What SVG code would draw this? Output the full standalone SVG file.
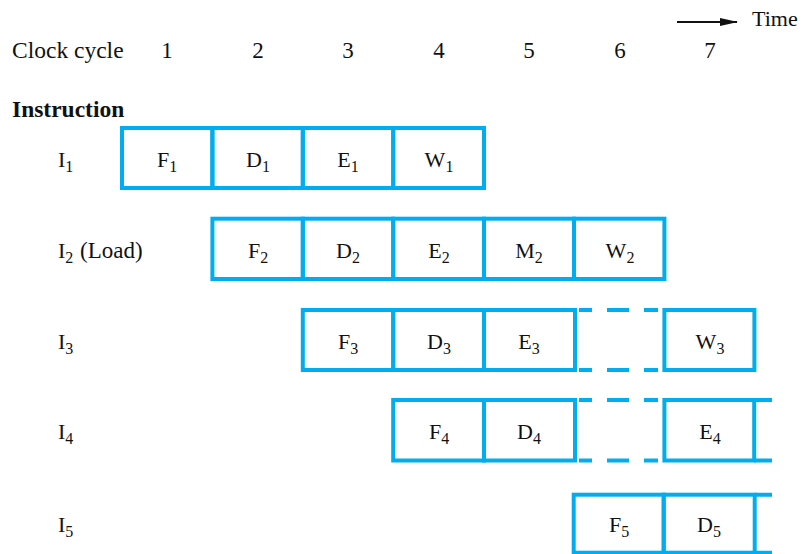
<svg xmlns="http://www.w3.org/2000/svg" width="804" height="554" viewBox="0 0 804 554">
<defs>
<style>
text{font-family:"Liberation Serif","Times New Roman",serif;fill:#111;}
.hdr{font-size:23.5px;}
.time{font-size:22px;}
.bold{font-size:23.5px;font-weight:bold;}
.lbl{font-size:22px;text-anchor:middle;}
.row{font-size:22px;}
.num{font-size:23px;text-anchor:middle;}
.cell{fill:none;stroke:#00AEEF;stroke-width:4;}
.ln{stroke:#00AEEF;stroke-width:4;fill:none;}
</style>
<marker id="ah" markerWidth="18" markerHeight="8" refX="17" refY="4" orient="auto" markerUnits="userSpaceOnUse">
<path d="M0,0 L18,4 L0,8 Z" fill="#111"/>
</marker>
</defs>
<rect width="804" height="554" fill="#fff"/>
<g id="header">
<text class="hdr" x="12" y="58">Clock cycle</text>
<text class="num" x="167" y="58">1</text>
<text class="num" x="258" y="58">2</text>
<text class="num" x="348" y="58">3</text>
<text class="num" x="439" y="58">4</text>
<text class="num" x="529" y="58">5</text>
<text class="num" x="620" y="58">6</text>
<text class="num" x="710" y="58">7</text>
<text class="bold" x="12" y="117">Instruction</text>
<line x1="677" y1="22" x2="737" y2="22" stroke="#111" stroke-width="2" marker-end="url(#ah)"/>
<text class="time" x="752" y="26">Time</text>
</g>
<g id="I1">
<text class="row" x="58" y="167">I<tspan dy="5" font-size="16">1</tspan></text>
<rect class="cell" x="122" y="128" width="90.4" height="60"/>
<rect class="cell" x="212.4" y="128" width="90.4" height="60"/>
<rect class="cell" x="302.8" y="128" width="90.4" height="60"/>
<rect class="cell" x="393.2" y="128" width="90.8" height="60"/>
<text class="lbl" x="167" y="167">F<tspan dy="5" font-size="16">1</tspan></text>
<text class="lbl" x="258" y="167">D<tspan dy="5" font-size="16">1</tspan></text>
<text class="lbl" x="348" y="167">E<tspan dy="5" font-size="16">1</tspan></text>
<text class="lbl" x="439" y="167">W<tspan dy="5" font-size="16">1</tspan></text>
</g>
<g id="I2">
<text class="row" x="58" y="258">I<tspan dy="5" font-size="16">2</tspan><tspan dy="-5" dx="1" font-size="23"> (Load)</tspan></text>
<rect class="cell" x="212.4" y="218.7" width="90.4" height="60.3"/>
<rect class="cell" x="302.8" y="218.7" width="90.4" height="60.3"/>
<rect class="cell" x="393.2" y="218.7" width="90.8" height="60.3"/>
<rect class="cell" x="484" y="218.7" width="90" height="60.3"/>
<rect class="cell" x="574" y="218.7" width="90.4" height="60.3"/>
<text class="lbl" x="258" y="258">F<tspan dy="5" font-size="16">2</tspan></text>
<text class="lbl" x="348" y="258">D<tspan dy="5" font-size="16">2</tspan></text>
<text class="lbl" x="439" y="258">E<tspan dy="5" font-size="16">2</tspan></text>
<text class="lbl" x="529" y="258">M<tspan dy="5" font-size="16">2</tspan></text>
<text class="lbl" x="620" y="258">W<tspan dy="5" font-size="16">2</tspan></text>
</g>
<g id="I3">
<text class="row" x="58" y="349">I<tspan dy="5" font-size="16">3</tspan></text>
<rect class="cell" x="302.8" y="310" width="90.4" height="60"/>
<rect class="cell" x="393.2" y="310" width="90.8" height="60"/>
<rect class="cell" x="484" y="310" width="91" height="60"/>
<path class="ln" d="M579,310 H592 M607,310 H629 M644,310 H658 M579,370 H592 M607,370 H629 M644,370 H658"/>
<rect class="cell" x="664.4" y="310" width="90" height="60"/>
<text class="lbl" x="348" y="349">F<tspan dy="5" font-size="16">3</tspan></text>
<text class="lbl" x="439" y="349">D<tspan dy="5" font-size="16">3</tspan></text>
<text class="lbl" x="529" y="349">E<tspan dy="5" font-size="16">3</tspan></text>
<text class="lbl" x="710" y="349">W<tspan dy="5" font-size="16">3</tspan></text>
</g>
<g id="I4">
<text class="row" x="58" y="439">I<tspan dy="5" font-size="16">4</tspan></text>
<rect class="cell" x="393.2" y="400" width="90.8" height="60.5"/>
<rect class="cell" x="484" y="400" width="91" height="60.5"/>
<path class="ln" d="M579,400 H592 M607,400 H629 M644,400 H658 M579,460.5 H592 M607,460.5 H629 M644,460.5 H658"/>
<rect class="cell" x="664.4" y="400" width="89.8" height="60.5"/>
<path class="ln" d="M754.2,400 H772 M754.2,460.5 H772"/>
<text class="lbl" x="439" y="439">F<tspan dy="5" font-size="16">4</tspan></text>
<text class="lbl" x="529" y="439">D<tspan dy="5" font-size="16">4</tspan></text>
<text class="lbl" x="710" y="439">E<tspan dy="5" font-size="16">4</tspan></text>
</g>
<g id="I5">
<text class="row" x="58" y="532">I<tspan dy="5" font-size="16">5</tspan></text>
<rect class="cell" x="573.7" y="494.7" width="90" height="58"/>
<rect class="cell" x="663.7" y="494.7" width="91" height="58"/>
<path class="ln" d="M754.7,494.7 H772 M754.7,552.7 H772"/>
<text class="lbl" x="619" y="532">F<tspan dy="5" font-size="16">5</tspan></text>
<text class="lbl" x="709" y="532">D<tspan dy="5" font-size="16">5</tspan></text>
</g>
</svg>
